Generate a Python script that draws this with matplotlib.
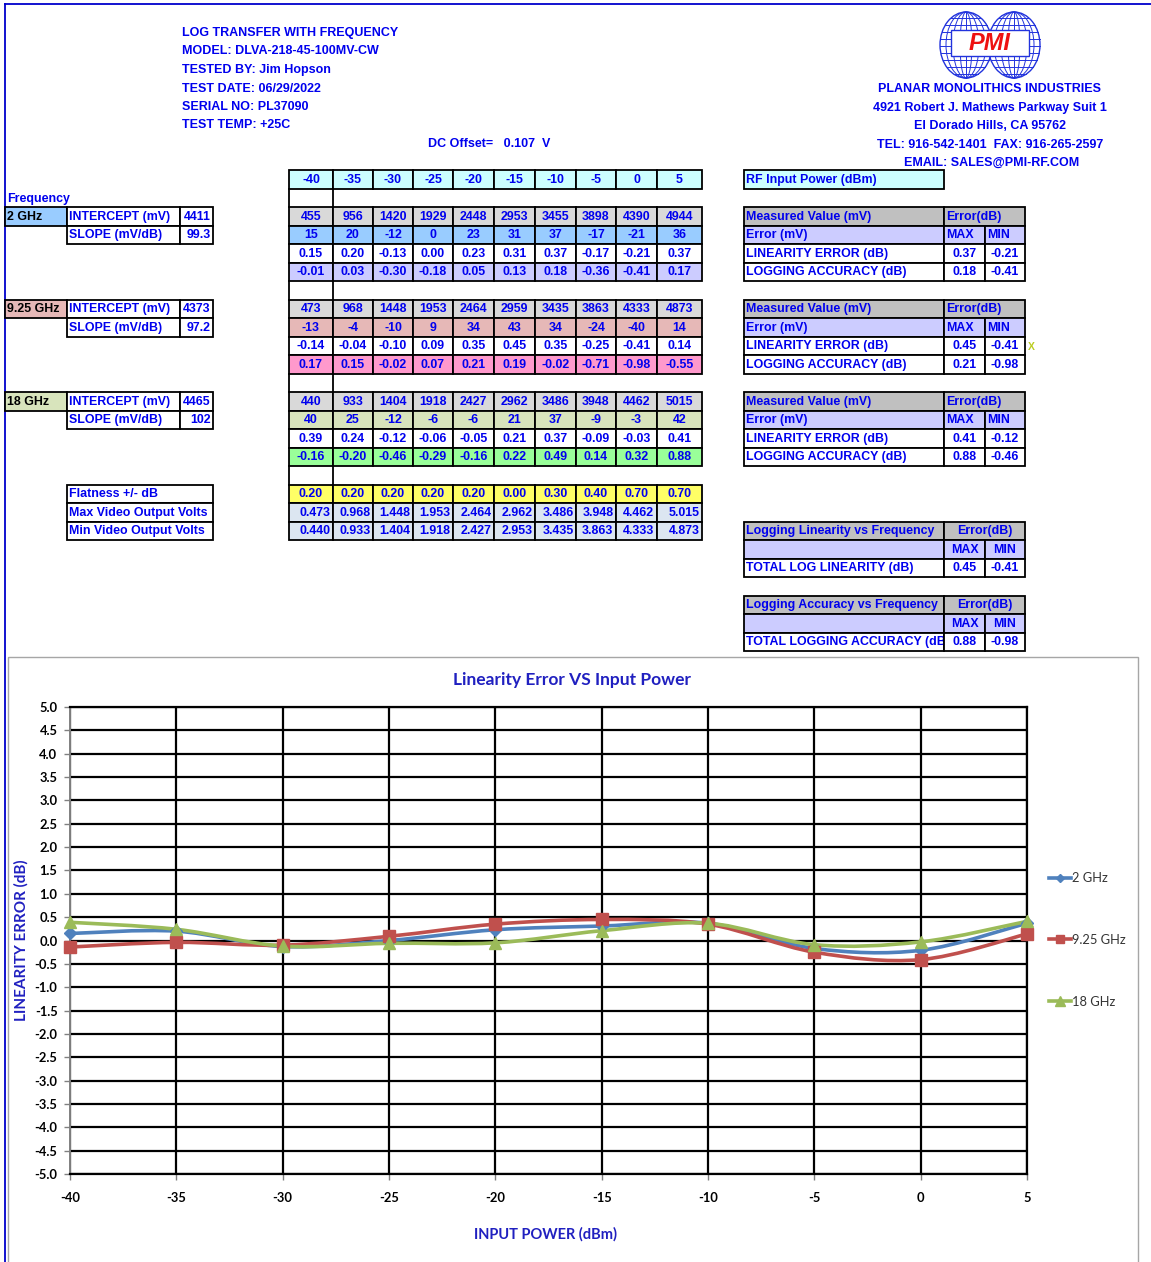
import numpy as np
import matplotlib
matplotlib.use('Agg')
import matplotlib.pyplot as plt
from matplotlib.patches import Rectangle, PathPatch, Ellipse
from matplotlib.path import Path
from matplotlib.lines import Line2D
from matplotlib.ticker import FormatStrFormatter

plt.rcParams['axes.unicode_minus'] = False

# ---------------- data ----------------
power = [-40, -35, -30, -25, -20, -15, -10, -5, 0, 5]
freq_labels = ['2 GHz', '9.25 GHz', '18 GHz']
intercept = ['4411', '4373', '4465']
slope = ['99.3', '97.2', '102']

meas_2 = [455, 956, 1420, 1929, 2448, 2953, 3455, 3898, 4390, 4944]
errmv_2 = [15, 20, -12, 0, 23, 31, 37, -17, -21, 36]
lin_2 = [0.15, 0.20, -0.13, 0.00, 0.23, 0.31, 0.37, -0.17, -0.21, 0.37]
acc_2 = [-0.01, 0.03, -0.30, -0.18, 0.05, 0.13, 0.18, -0.36, -0.41, 0.17]

meas_925 = [473, 968, 1448, 1953, 2464, 2959, 3435, 3863, 4333, 4873]
errmv_925 = [-13, -4, -10, 9, 34, 43, 34, -24, -40, 14]
lin_925 = [-0.14, -0.04, -0.10, 0.09, 0.35, 0.45, 0.35, -0.25, -0.41, 0.14]
acc_925 = [0.17, 0.15, -0.02, 0.07, 0.21, 0.19, -0.02, -0.71, -0.98, -0.55]

meas_18 = [440, 933, 1404, 1918, 2427, 2962, 3486, 3948, 4462, 5015]
errmv_18 = [40, 25, -12, -6, -6, 21, 37, -9, -3, 42]
lin_18 = [0.39, 0.24, -0.12, -0.06, -0.05, 0.21, 0.37, -0.09, -0.03, 0.41]
acc_18 = [-0.16, -0.20, -0.46, -0.29, -0.16, 0.22, 0.49, 0.14, 0.32, 0.88]

flatness = [0.20, 0.20, 0.20, 0.20, 0.20, 0.00, 0.30, 0.40, 0.70, 0.70]
max_video = [0.473, 0.968, 1.448, 1.953, 2.464, 2.962, 3.486, 3.948, 4.462, 5.015]
min_video = [0.440, 0.933, 1.404, 1.918, 2.427, 2.953, 3.435, 3.863, 4.333, 4.873]

lin_max = [0.37, 0.45, 0.41]
lin_min = [-0.21, -0.41, -0.12]
acc_max = [0.18, 0.21, 0.88]
acc_min = [-0.41, -0.98, -0.46]
total_lin = [0.45, -0.41]
total_acc = [0.88, -0.98]

header_lines = ['LOG TRANSFER WITH FREQUENCY', 'MODEL: DLVA-218-45-100MV-CW',
                'TESTED BY: Jim Hopson', 'TEST DATE: 06/29/2022',
                'SERIAL NO: PL37090', 'TEST TEMP: +25C']
company_lines = ['PLANAR MONOLITHICS INDUSTRIES', '4921 Robert J. Mathews Parkway Suit 1',
                 'El Dorado Hills, CA 95762', 'TEL: 916-542-1401  FAX: 916-265-2597',
                 'EMAIL: SALES@PMI-RF.COM']

# ---------------- style ----------------
W, H = 1151, 1262
NARROW = ['Liberation Sans Narrow', 'Liberation Sans', 'DejaVu Sans']
CHARTF = ['Lato', 'DejaVu Sans']
BLUE = '#0000EE'
TS = 8.9

fig = plt.figure(figsize=(W / 100, H / 100), dpi=100)
ov = fig.add_axes([0, 0, 1, 1])
ov.set_xlim(0, W)
ov.set_ylim(H, 0)
ov.axis('off')

ROW0, RH = 170.0, 18.5


def ry(r):
    return ROW0 + RH * r


def cell(x0, x1, r, bg='white', text=None, ha='center', color=BLUE, lw=1.3, size=TS, z=2):
    y0 = ry(r)
    rect = Rectangle((x0, y0), x1 - x0, RH, facecolor=bg, edgecolor='black', lw=lw, zorder=z)
    ov.add_patch(rect)
    if text is not None:
        if ha == 'center':
            tx = (x0 + x1) / 2
        elif ha == 'left':
            tx = x0 + 2.5
        else:
            tx = x1 - 2.5
        ov.text(tx, y0 + RH / 2 + 0.5, text, ha=ha, va='center', color=color,
                fontsize=size, fontweight='bold', family=NARROW, zorder=z + 0.5)


# frame lines
ov.plot([5, W], [4, 4], color='#0000CC', lw=1.3, zorder=1)
ov.plot([5, 5], [4, H], color='#0000CC', lw=1.3, zorder=1)

# header text
for i, t in enumerate(header_lines):
    ov.text(182, 33 + 18.5 * i, t, ha='left', va='center', color=BLUE,
            fontsize=9.0, fontweight='bold', family=NARROW)
ov.text(428, 144, 'DC Offset=   0.107  V', ha='left', va='center', color=BLUE,
        fontsize=9.0, fontweight='bold', family=NARROW)
for i, t in enumerate(company_lines):
    ov.text(990 if i < 4 else 992, 89 + 18.5 * i, t, ha='center', va='center', color=BLUE,
            fontsize=9.0, fontweight='bold', family=NARROW)

# logo
for cx in (966, 1014):
    ov.add_patch(Ellipse((cx, 45), 52, 66, fill=False, edgecolor='#2233DD', lw=1.0))
    for w in (40, 26, 12):
        ov.add_patch(Ellipse((cx, 45), w, 66, fill=False, edgecolor='#2233DD', lw=0.7))
    ov.plot([cx, cx], [12, 78], color='#2233DD', lw=0.7)
    for yy in range(18, 76, 7):
        dy = (yy - 45) / 33.0
        half = 26 * np.sqrt(max(0, 1 - dy * dy))
        ov.plot([cx - half, cx + half], [yy, yy], color='#2233DD', lw=0.7)
ov.add_patch(Rectangle((951, 30), 78, 26, facecolor='white', edgecolor='#2233DD', lw=1.0, zorder=4))
ov.text(990, 43.5, 'PMI', ha='center', va='center', color='#EE1111', fontsize=17,
        fontweight='bold', fontstyle='italic', family=['Liberation Sans', 'DejaVu Sans'], zorder=5)

# middle table
cols = [289, 333, 373, 413, 453, 494, 535, 576, 616, 657, 702]
for j, p in enumerate(power):
    cell(cols[j], cols[j + 1], 0, '#CCFFFF', str(p))

blocks = [
    (2, meas_2, errmv_2, lin_2, acc_2, '#99CCFF', '#CCCCFF'),
    (7, meas_925, errmv_925, lin_925, acc_925, '#E6B8B7', '#FF99CC'),
    (12, meas_18, errmv_18, lin_18, acc_18, '#D8E4BC', '#99FF99'),
]
for r0, meas, errmv, lin, acc, c_err, c_acc in blocks:
    for j in range(len(power)):
        cell(cols[j], cols[j + 1], r0, '#D9D9D9', str(meas[j]))
        cell(cols[j], cols[j + 1], r0 + 1, c_err, str(errmv[j]))
        cell(cols[j], cols[j + 1], r0 + 2, 'white', f'{lin[j]:.2f}')
        cell(cols[j], cols[j + 1], r0 + 3, c_acc, f'{acc[j]:.2f}')

for r in (1, 6, 11, 16):
    y0, y1 = ry(r), ry(r + 1)
    ov.plot([289, 289], [y0, y1], color='black', lw=1.3, zorder=2)
    ov.plot([333, 333], [y0, y1], color='black', lw=1.3, zorder=2)

for j in range(len(power)):
    cell(cols[j], cols[j + 1], 17, '#FFFF66', f'{flatness[j]:.2f}')
    cell(cols[j], cols[j + 1], 18, '#DCE6F1', f'{max_video[j]:.3f}', ha='right')
    cell(cols[j], cols[j + 1], 19, '#DCE6F1', f'{min_video[j]:.3f}', ha='right')

# left table
ov.text(7, ry(1) + RH / 2 + 1, 'Frequency', ha='left', va='center', color=BLUE,
        fontsize=TS, fontweight='bold', family=NARROW)
for k, r0 in enumerate((2, 7, 12)):
    c_lab = blocks[k][5]
    cell(5, 67, r0, c_lab, freq_labels[k], ha='left', color='black')
    cell(67, 180, r0, 'white', 'INTERCEPT (mV)', ha='left')
    cell(180, 213, r0, 'white', intercept[k], ha='right')
    cell(67, 180, r0 + 1, 'white', 'SLOPE (mV/dB)', ha='left')
    cell(180, 213, r0 + 1, 'white', slope[k], ha='right')
cell(67, 213, 17, 'white', 'Flatness +/- dB', ha='left')
cell(67, 213, 18, 'white', 'Max Video Output Volts', ha='left')
cell(67, 213, 19, 'white', 'Min Video Output Volts', ha='left')

# right tables
cell(744, 944, 0, '#CCFFFF', 'RF Input Power (dBm)', ha='left')
for k, r0 in enumerate((2, 7, 12)):
    cell(744, 944, r0, '#C0C0C0', 'Measured Value (mV)', ha='left')
    cell(944, 1025, r0, '#C0C0C0', 'Error(dB)', ha='left')
    cell(744, 944, r0 + 1, '#CCCCFF', 'Error (mV)', ha='left')
    cell(944, 985, r0 + 1, '#CCCCFF', 'MAX', ha='left')
    cell(985, 1025, r0 + 1, '#CCCCFF', 'MIN', ha='left')
    cell(744, 944, r0 + 2, 'white', 'LINEARITY ERROR (dB)', ha='left')
    cell(944, 985, r0 + 2, 'white', f'{lin_max[k]:.2f}')
    cell(985, 1025, r0 + 2, 'white', f'{lin_min[k]:.2f}')
    cell(744, 944, r0 + 3, 'white', 'LOGGING ACCURACY (dB)', ha='left')
    cell(944, 985, r0 + 3, 'white', f'{acc_max[k]:.2f}')
    cell(985, 1025, r0 + 3, 'white', f'{acc_min[k]:.2f}')
ov.text(1028, ry(9) + RH / 2 + 1, 'X', ha='left', va='center', color='#BBCC22',
        fontsize=7.5, fontweight='bold', family=NARROW)

for r0, title, lab, tot in ((19, 'Logging Linearity vs Frequency', 'TOTAL LOG LINEARITY (dB)', total_lin),
                            (23, 'Logging Accuracy vs Frequency', 'TOTAL LOGGING ACCURACY (dB)', total_acc)):
    cell(744, 944, r0, '#C0C0C0', title, ha='left')
    cell(944, 1025, r0, '#C0C0C0', 'Error(dB)')
    cell(744, 944, r0 + 1, '#CCCCFF', None)
    cell(944, 985, r0 + 1, '#CCCCFF', 'MAX')
    cell(985, 1025, r0 + 1, '#CCCCFF', 'MIN')
    cell(744, 944, r0 + 2, 'white', lab, ha='left')
    # value cells drawn above the label so an overflowing label is cut at the border
    cell(944, 985, r0 + 2, 'white', f'{tot[0]:.2f}', z=3)
    cell(985, 1025, r0 + 2, 'white', f'{tot[1]:.2f}', z=3)

# chart frame
ov.add_patch(Rectangle((8, 657), 1130, 620, fill=False, edgecolor='#A6A6A6', lw=1.0, zorder=1))

# ---------------- chart ----------------
x0p, x1p, ytp, ybp = 70, 1027, 707, 1174
ax = fig.add_axes([x0p / W, 1 - ybp / H, (x1p - x0p) / W, (ybp - ytp) / H])
ax.set_xlim(-40, 5)
ax.set_ylim(-5, 5)
ax.set_xticks(power)
ax.set_yticks(np.arange(-5, 5.01, 0.5))
ax.yaxis.set_major_formatter(FormatStrFormatter('%.1f'))
ax.set_axisbelow(True)
ax.grid(True, color='black', lw=1.6)
for s in ('top', 'right', 'bottom'):
    ax.spines[s].set_color('black')
    ax.spines[s].set_linewidth(1.6)
ax.spines['left'].set_color('#808080')
ax.spines['left'].set_linewidth(1.4)
ax.tick_params(axis='both', length=4, color='#808080', width=1.0, pad=5)
for lab in ax.get_xticklabels() + ax.get_yticklabels():
    lab.set_fontweight('bold')
    lab.set_family(CHARTF)
    lab.set_fontsize(9.3)
ax.tick_params(axis='x', pad=9)


def smooth_path(x, y):
    pts = np.column_stack([x, y]).astype(float)
    n = len(pts)
    verts = [pts[0]]
    codes = [Path.MOVETO]
    for i in range(n - 1):
        p0 = pts[i - 1] if i > 0 else pts[i]
        p1, p2 = pts[i], pts[i + 1]
        p3 = pts[i + 2] if i + 2 < n else pts[i + 1]
        verts += [p1 + (p2 - p0) / 6, p2 - (p3 - p1) / 6, p2]
        codes += [Path.CURVE4] * 3
    return Path(verts, codes)


series = [(lin_2, '#4F81BD', 'D', 6, '2 GHz'),
          (lin_925, '#C0504D', 's', 8, '9.25 GHz'),
          (lin_18, '#9BBB59', '^', 9, '18 GHz')]
handles = []
for vals, col, mk, ms, lab in series:
    ax.add_patch(PathPatch(smooth_path(power, vals), fill=False, edgecolor=col, lw=2.6,
                           zorder=3, clip_on=False))
    ax.plot(power, vals, linestyle='none', marker=mk, ms=ms, color=col,
            markeredgecolor=col, zorder=4, clip_on=False)
    handles.append(Line2D([], [], color=col, lw=2.6, marker=mk, ms=ms * 0.75, label=lab))

leg = fig.legend(handles=handles, loc='center left', bbox_to_anchor=(1043 / W, 1 - 940 / H),
                 bbox_transform=fig.transFigure, frameon=False, handlelength=1.7,
                 handletextpad=0.05, labelspacing=3.85, borderpad=0,
                 prop={'family': CHARTF, 'size': 9.3})
for t in leg.get_texts():
    t.set_color('#333333')

fig.text(572 / W, 1 - 680 / H, 'Linearity Error VS Input Power', ha='center', va='center',
         color='#2020C0', fontsize=12.5, fontweight='bold', family=CHARTF)
fig.text(546 / W, 1 - 1234 / H, 'INPUT POWER (dBm)', ha='center', va='center',
         color='#2020C0', fontsize=10.5, fontweight='bold', family=CHARTF)
fig.text(21 / W, 1 - 940 / H, 'LINEARITY ERROR (dB)', ha='center', va='center', rotation=90,
         color='#2020C0', fontsize=11, fontweight='bold', family=CHARTF)

fig.savefig('out.png', dpi=100)
